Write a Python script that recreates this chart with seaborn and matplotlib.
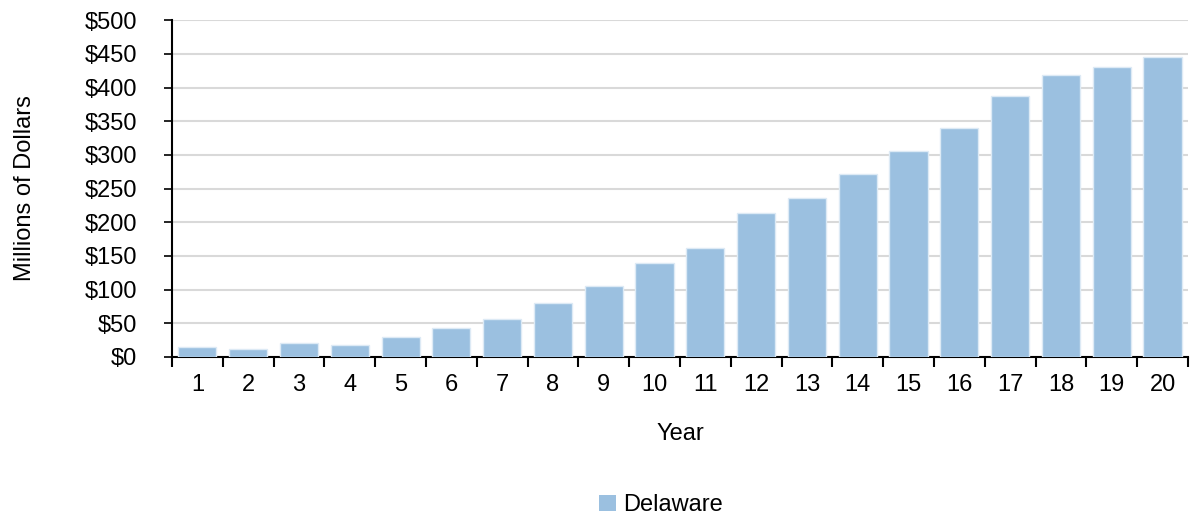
import numpy as np
import pandas as pd
import matplotlib
matplotlib.use("Agg")
import matplotlib.pyplot as plt
import seaborn as sns
from matplotlib.ticker import FixedLocator, FuncFormatter
from matplotlib.patches import Patch

years = [str(i) for i in range(1, 21)]
delaware = [15, 12, 21, 18, 29, 43, 57, 80, 105, 139, 162, 213, 236, 272, 306, 340, 388, 419, 431, 445]

df = pd.DataFrame({"Year": years, "Value": delaware})

sns.set_style("white")
plt.rcParams["font.family"] = ["Liberation Sans", "DejaVu Sans"]
plt.rcParams["text.color"] = "black"
plt.rcParams["axes.labelcolor"] = "black"

fs = 17
bar_color = "#9BC0E0"
fig = plt.figure(figsize=(11.91, 5.18), dpi=100)
ax = fig.add_axes([0.1444, 0.311, 0.853, 0.650])

sns.barplot(data=df, x="Year", y="Value", color=bar_color, saturation=1,
            width=0.75, edgecolor="#DDEAF5", linewidth=1, ax=ax, zorder=3)

ax.set_ylim(0, 500)
ax.set_xlim(-0.5, len(years) - 0.5)
ax.set_yticks(np.arange(0, 501, 50))
ax.yaxis.set_major_formatter(FuncFormatter(lambda v, p: f"${v:.0f}"))
ax.yaxis.grid(True, color="#D9D9D9", linewidth=1.5, zorder=0)
ax.set_axisbelow(True)

ax.xaxis.set_minor_locator(FixedLocator(np.arange(-0.5, len(years), 1)))
ax.tick_params(axis="x", which="major", length=0, labelsize=fs, pad=12, colors="black")
ax.tick_params(axis="x", which="minor", bottom=True, length=7, width=1.5, direction="out", color="black")
ax.tick_params(axis="y", which="major", length=6, width=1.2, direction="out", labelsize=fs,
               colors="black", left=True, pad=19)

for side in ["top", "right"]:
    ax.spines[side].set_visible(False)
for side in ["left", "bottom"]:
    ax.spines[side].set_color("black")
    ax.spines[side].set_linewidth(1.5)

ax.set_xlabel("Year", fontsize=fs, labelpad=20)
ax.set_ylabel("Millions of Dollars", fontsize=fs, labelpad=35)

handles = [Patch(facecolor=bar_color, edgecolor="none", label="Delaware")]
fig.legend(handles=handles, loc="center", bbox_to_anchor=(0.555, 0.025), frameon=False,
           fontsize=fs, handlelength=0.7, handleheight=0.7, handletextpad=0.3)

fig.savefig("out.png", dpi=100)
